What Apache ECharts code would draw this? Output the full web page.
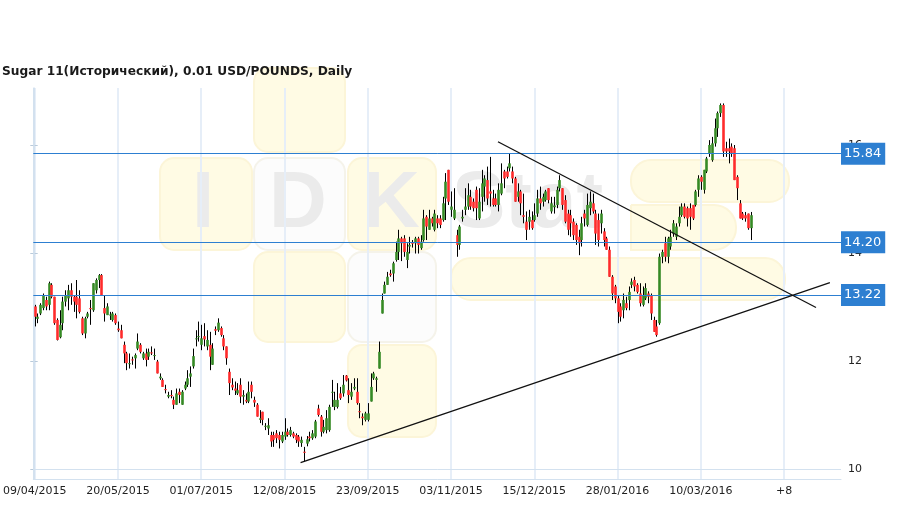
<!DOCTYPE html>
<html>
<head>
<meta charset="utf-8">
<script src="https://cdn.jsdelivr.net/npm/echarts@6/dist/echarts.min.js"></script>
<style>
  html, body { margin: 0; padding: 0; background: #fff; }
  #main { width: 909px; height: 509px; }
</style>
</head>
<body>
<div id="main"></div>
<script>
// подписи оси X (каждые 30 баров)
var tickLabels = ['09/04/2015', '20/05/2015', '01/07/2015', '12/08/2015', '23/09/2015',
  '03/11/2015', '15/12/2015', '28/01/2016', '10/03/2016', '+8'];
var tickStep = 30;
var slotCount = 291;
var yTicks = [10, 12, 14, 16];

// уровни и трендовые линии: [индекс бара, цена]
var levels = [15.84, 14.20, 13.22];
var trendDown = [[166.9, 16.06], [281.5, 12.99]];
var trendUp = [[95.8, 10.12], [286.5, 13.45]];

// свечи: [open, close, low, high]
var candles = [
  [13.01,12.82,12.64,13.04],[12.78,12.82,12.70,12.88],[12.88,13.04,12.85,13.07],[12.98,13.22,12.94,13.25],
  [13.13,13.01,12.94,13.19],[13.04,13.44,12.94,13.47],[13.41,13.19,13.16,13.44],[13.19,12.70,12.67,13.19],
  [12.76,12.39,12.38,12.79],[12.44,12.67,12.42,12.94],[12.70,13.10,12.57,13.19],[13.10,13.22,13.01,13.31],
  [13.16,13.31,12.94,13.41],[13.31,13.19,13.04,13.44],[13.19,13.10,12.91,13.22],[13.19,13.04,12.79,13.50],
  [13.16,12.91,12.88,13.31],[12.79,12.51,12.48,12.82],[12.51,12.79,12.42,12.82],[12.82,12.88,12.79,12.91],
  [12.98,12.96,12.67,13.13],[12.94,13.44,12.91,13.44],[13.31,13.50,13.25,13.53],[13.50,13.59,13.35,13.61],
  [13.59,13.22,13.22,13.61],[12.98,12.88,12.73,13.22],[12.85,13.01,12.85,13.07],[12.85,12.86,12.76,12.91],
  [12.76,12.88,12.73,12.91],[12.85,12.70,12.67,12.88],[12.60,12.57,12.54,12.73],[12.57,12.42,12.42,12.67],
  [12.30,12.14,11.96,12.36],[12.14,11.96,11.83,12.17],[11.95,11.96,11.86,12.14],[12.03,12.01,11.93,12.08],
  [12.05,12.11,11.86,12.14],[12.23,12.36,12.20,12.51],[12.30,12.17,12.14,12.33],[12.05,12.14,12.02,12.17],
  [12.14,12.02,11.90,12.23],[12.08,12.17,12.02,12.23],[12.16,12.14,12.11,12.27],[12.10,12.11,12.02,12.23],
  [11.99,11.77,11.77,12.02],[11.68,11.71,11.65,11.77],[11.65,11.52,11.52,11.68],[11.48,11.46,11.40,11.56],
  [11.34,11.37,11.31,11.43],[11.37,11.35,11.31,11.46],[11.28,11.19,11.11,11.34],[11.19,11.40,11.19,11.49],
  [11.43,11.37,11.22,11.49],[11.19,11.43,11.19,11.46],[11.49,11.56,11.46,11.62],[11.56,11.68,11.52,11.83],
  [11.71,11.77,11.52,11.90],[11.90,12.09,11.86,12.23],[12.41,12.42,12.27,12.57],[12.45,12.46,12.36,12.73],
  [12.30,12.42,12.20,12.67],[12.46,12.40,12.27,12.70],[12.27,12.39,12.20,12.57],[12.30,12.08,11.83,12.54],
  [11.93,12.23,11.93,12.33],[12.59,12.56,12.48,12.64],[12.57,12.71,12.54,12.79],[12.61,12.48,12.45,12.64],
  [12.42,12.27,12.20,12.48],[12.27,12.05,11.93,12.27],[11.80,11.59,11.37,11.86],[11.56,11.51,11.46,11.68],
  [11.49,11.45,11.37,11.62],[11.40,11.46,11.37,11.59],[11.56,11.34,11.22,11.68],[11.34,11.37,11.19,11.46],
  [11.28,11.25,11.22,11.40],[11.25,11.43,11.22,11.62],[11.56,11.43,11.31,11.62],[11.28,11.23,11.15,11.34],
  [11.19,10.97,10.97,11.22],[10.91,10.94,10.85,11.09],[11.06,10.91,10.81,11.06],[10.79,10.80,10.72,10.85],
  [10.75,10.81,10.63,10.94],[10.63,10.51,10.41,10.69],[10.63,10.54,10.41,10.69],[10.66,10.57,10.48,10.72],
  [10.63,10.54,10.38,10.69],[10.51,10.63,10.48,10.69],[10.60,10.69,10.54,10.94],[10.69,10.63,10.60,10.75],
  [10.63,10.72,10.60,10.78],[10.66,10.60,10.57,10.69],[10.63,10.54,10.48,10.66],[10.60,10.51,10.41,10.63],
  [10.48,10.54,10.41,10.60],[10.32,10.30,10.14,10.41],[10.47,10.55,10.42,10.61],[10.60,10.57,10.51,10.69],
  [10.57,10.66,10.54,10.72],[10.60,10.88,10.57,10.91],[11.12,11.00,10.97,11.19],[10.97,10.69,10.60,11.00],
  [10.69,10.78,10.66,10.91],[10.72,10.94,10.66,11.09],[10.72,11.15,10.69,11.19],[11.42,11.43,11.15,11.65],
  [11.15,11.28,11.09,11.43],[11.15,11.28,11.12,11.59],[11.40,11.31,11.28,11.52],[11.40,11.56,11.34,11.74],
  [11.73,11.64,11.62,11.74],[11.46,11.37,11.22,11.68],[11.34,11.43,11.28,11.59],[11.49,11.52,11.46,11.68],
  [11.43,11.22,11.19,11.68],[11.07,11.06,10.94,11.22],[10.97,10.94,10.81,11.03],[10.91,11.03,10.88,11.06],
  [10.91,11.03,10.88,11.22],[11.25,11.52,11.25,11.77],[11.68,11.77,11.65,11.80],[11.65,11.68,11.43,11.71],
  [11.86,12.17,11.86,12.36],[12.88,13.13,12.88,13.25],[13.25,13.41,13.25,13.47],[13.41,13.56,13.41,13.65],
  [13.62,13.59,13.56,13.69],[13.62,13.81,13.47,13.84],[13.87,14.02,13.84,14.21],[14.02,14.27,13.87,14.43],
  [14.27,14.18,13.85,14.30],[14.27,14.02,13.93,14.33],[13.87,14.02,13.72,14.18],[14.12,14.15,13.99,14.30],
  [14.19,14.17,14.10,14.24],[14.18,14.27,13.99,14.30],[14.27,14.15,13.99,14.30],[14.09,14.21,14.06,14.33],
  [14.24,14.64,14.21,14.80],[14.67,14.49,14.24,14.70],[14.43,14.64,14.43,14.80],[14.64,14.55,14.49,14.67],
  [14.43,14.73,14.40,14.80],[14.64,14.55,14.46,14.70],[14.64,14.52,14.46,14.70],[14.61,14.92,14.58,15.04],
  [15.01,15.32,14.61,15.48],[15.54,14.95,14.89,15.54],[14.80,14.86,14.67,15.14],[14.64,14.80,14.61,15.20],
  [14.33,14.15,13.93,14.43],[14.15,14.49,14.06,14.52],[14.64,14.67,14.58,14.80],[14.80,14.86,14.70,15.20],
  [14.86,15.07,14.80,15.29],[15.04,14.86,14.80,15.17],[14.95,14.83,14.77,15.01],[15.17,14.83,14.61,15.23],
  [14.64,14.95,14.61,15.20],[15.04,15.29,14.77,15.54],[15.23,15.38,14.95,15.44],[15.35,15.01,14.89,15.60],
  [15.14,15.10,14.86,15.78],[15.01,14.89,14.86,15.17],[15.01,14.89,14.86,15.10],[14.89,15.17,14.77,15.29],
  [15.10,15.29,15.07,15.66],[15.51,15.38,15.20,15.54],[15.51,15.41,15.38,15.60],[15.57,15.66,15.51,15.85],
  [15.51,15.38,15.29,15.60],[15.38,14.95,14.95,15.41],[15.04,15.14,14.95,15.29],[15.14,14.92,14.70,15.17],
  [14.70,14.67,14.55,15.10],[14.58,14.43,14.24,14.77],[14.58,14.67,14.43,14.80],[14.61,14.46,14.43,14.77],
  [14.61,14.70,14.58,14.92],[14.73,15.01,14.67,15.17],[15.01,14.92,14.80,15.23],[14.95,15.04,14.86,15.10],
  [14.98,15.14,14.95,15.17],[15.20,14.98,14.92,15.20],[14.77,14.92,14.73,15.04],[14.85,14.88,14.73,15.04],
  [14.89,15.17,14.83,15.23],[15.20,15.35,15.14,15.44],[15.20,14.89,14.80,15.20],[14.98,14.58,14.55,15.07],
  [14.73,14.43,14.33,14.80],[14.70,14.55,14.30,14.80],[14.58,14.33,14.24,14.64],[14.52,14.24,14.15,14.55],
  [14.30,14.18,13.96,14.43],[14.24,14.55,14.12,14.67],[14.73,14.64,14.49,14.80],[14.52,14.89,14.49,15.10],
  [14.83,14.95,14.70,15.14],[14.92,14.77,14.73,15.10],[14.73,14.36,14.15,14.80],[14.61,14.24,14.12,14.73],
  [14.55,14.73,14.36,14.80],[14.40,14.24,14.12,14.46],[14.27,14.06,14.06,14.30],[14.06,13.56,13.56,14.12],
  [13.56,13.25,13.13,13.59],[13.38,13.16,13.07,13.41],[13.16,12.91,12.70,13.22],[13.01,12.82,12.73,13.07],
  [12.94,13.13,12.79,13.25],[13.07,12.98,12.94,13.19],[13.13,13.28,12.94,13.38],[13.41,13.47,13.35,13.53],
  [13.50,13.38,13.29,13.56],[13.41,13.28,13.25,13.44],[13.25,13.07,13.01,13.44],[13.04,13.22,13.01,13.38],
  [13.16,13.35,13.13,13.44],[13.25,13.19,13.07,13.29],[13.22,12.88,12.76,13.25],[12.76,12.54,12.54,12.82],
  [12.64,12.48,12.45,12.76],[12.70,13.93,12.67,13.99],[13.93,14.02,13.81,14.06],[14.18,13.93,13.84,14.30],
  [13.93,14.27,13.81,14.30],[14.12,14.30,14.06,14.43],[14.36,14.55,14.30,14.61],[14.30,14.49,14.24,14.55],
  [14.55,14.67,14.49,14.86],[14.70,14.86,14.67,14.92],[14.86,14.67,14.64,14.92],[14.83,14.64,14.49,14.86],
  [14.83,14.67,14.43,14.92],[14.89,14.64,14.61,14.89],[14.89,15.14,14.86,15.17],[15.17,15.38,15.04,15.44],
  [15.41,15.32,15.17,15.44],[15.17,15.54,15.10,15.54],[15.51,15.75,15.48,15.78],[15.85,16.00,15.78,16.09],
  [15.72,16.03,15.69,16.15],[16.03,16.31,15.97,16.49],[16.31,16.59,16.15,16.62],[16.59,16.74,16.52,16.77],
  [16.74,15.88,15.78,16.77],[15.94,15.88,15.78,16.06],[15.94,15.88,15.66,16.12],[15.97,15.85,15.78,16.03],
  [15.94,15.35,15.35,16.00],[15.41,15.20,14.98,15.44],[14.92,14.64,14.64,14.98],[14.73,14.64,14.61,14.76],
  [14.70,14.64,14.58,14.76],[14.73,14.46,14.43,14.73],[14.46,14.70,14.24,14.76]
];

// рабочие дни начиная с 09/04/2015
var categories = [];
var d = new Date(2015, 3, 9);
while (categories.length < slotCount) {
  if (d.getDay() !== 0 && d.getDay() !== 6) {
    categories.push(('0' + d.getDate()).slice(-2) + '/' + ('0' + (d.getMonth() + 1)).slice(-2) + '/' + d.getFullYear());
  }
  d.setDate(d.getDate() + 1);
}

var font = 'DejaVu Sans';
var upColor = '#358a24';
var downColor = '#ff2b2b';
var levelColor = '#2d7fd1';
var gridColor = '#e6eef8';
var onTick = function (idx) { return idx % tickStep === 0; };

// фоновый логотип
var yellow = { fill: '#fffbe4', stroke: '#fcf5d8', lineWidth: 2 };
var pale = { fill: '#fcfcfc', stroke: '#f5f3ea', lineWidth: 2 };
function block(x, y, w, h, st, r) {
  return { type: 'rect', z: -10, silent: true, shape: { x: x, y: y, width: w, height: h, r: r || 14 }, style: st };
}
function letter(t, x, align) {
  return { type: 'text', z: -9, silent: true, x: x, y: 205,
    style: { text: t, font: 'bold 80px "Liberation Sans"', fill: '#ebebeb', textAlign: align || 'center', textVerticalAlign: 'middle' } };
}
var watermark = [
  block(254, 68, 91, 84, yellow),
  block(160, 158, 92, 92, yellow),
  block(254, 158, 91, 92, pale),
  block(348, 158, 88, 92, yellow),
  block(254, 252, 91, 90, yellow),
  block(348, 252, 88, 90, pale),
  block(451, 258, 334, 42, yellow, 20),
  block(348, 345, 88, 92, yellow),
  block(631, 160, 158, 42, yellow, 20),
  block(631, 205, 105, 45, yellow, [0, 22, 22, 0]),
  letter('I', 203), letter('D', 298), letter('K', 391), letter('Stat', 452, 'left')
];

var myChart = echarts.init(document.getElementById('main'));
var option = {
  animation: false,
  backgroundColor: '#fff',
  title: {
    text: 'Sugar 11(Исторический), 0.01 USD/POUNDS, Daily',
    left: -3,
    top: 61,
    textStyle: { fontFamily: font, fontSize: 12.2, fontWeight: 'bold', color: '#1a1a1a' }
  },
  graphic: { elements: watermark },
  grid: { left: 33, right: 68, top: 88, bottom: 30 },
  xAxis: [
    {
      type: 'category',
      data: categories,
      boundaryGap: true,
      axisLine: { lineStyle: { color: '#d3e1ef' } },
      axisTick: { alignWithLabel: true, interval: onTick, length: 3, lineStyle: { color: '#b9cadb' } },
      axisLabel: {
        interval: onTick,
        formatter: function (v, idx) { return tickLabels[idx / tickStep]; },
        fontFamily: font, fontSize: 11, color: '#222', margin: 7
      },
      splitLine: { show: true, interval: onTick, alignWithLabel: true, lineStyle: { color: gridColor, width: 2 } }
    },
    { type: 'value', min: -0.5, max: slotCount - 0.5, show: false }
  ],
  yAxis: [
    {
      type: 'value',
      position: 'right',
      min: 9.8148,
      max: 17.0556,
      axisLine: { show: true, lineStyle: { color: '#d3e1ef' } },
      axisTick: { show: true, customValues: yTicks, length: 3, lineStyle: { color: '#b9cadb' } },
      axisLabel: { customValues: yTicks, fontFamily: font, fontSize: 11, color: '#222', margin: 7 },
      splitLine: { show: false }
    },
    {
      type: 'value',
      position: 'left',
      min: 9.8148,
      max: 17.0556,
      axisLine: { show: true, lineStyle: { color: '#d3e1ef' } },
      axisTick: { show: true, customValues: yTicks, length: 3, lineStyle: { color: '#b9cadb' } },
      axisLabel: { show: false },
      splitLine: { show: false }
    }
  ],
  series: [
    {
      type: 'custom',
      name: 'Sugar 11',
      xAxisIndex: 0,
      yAxisIndex: 0,
      encode: { x: 0, y: [1, 2, 3, 4] },
      data: candles.map(function (c, i) { return [i, c[0], c[1], c[2], c[3]]; }),
      renderItem: function (params, api) {
        var i = api.value(0);
        var o = api.coord([i, api.value(1)]);
        var c = api.coord([i, api.value(2)]);
        var lo = api.coord([i, api.value(3)]);
        var hi = api.coord([i, api.value(4)]);
        var x = Math.round(o[0]) + 0.5;
        var w = 2.6;
        var top = Math.min(o[1], c[1]);
        var h = Math.max(1, Math.abs(o[1] - c[1]));
        return {
          type: 'group',
          children: [
            { type: 'line', shape: { x1: x, y1: hi[1], x2: x, y2: lo[1] }, style: { stroke: '#000', lineWidth: 1 } },
            { type: 'rect', shape: { x: x - w / 2, y: top, width: w, height: h },
              style: { fill: api.value(2) >= api.value(1) ? upColor : downColor } }
          ]
        };
      }
    },
    {
      type: 'line',
      xAxisIndex: 1,
      yAxisIndex: 0,
      data: trendDown,
      symbol: 'none',
      z: 5,
      lineStyle: { color: '#111', width: 1.3 }
    },
    {
      type: 'line',
      xAxisIndex: 1,
      yAxisIndex: 0,
      data: trendUp,
      symbol: 'none',
      z: 5,
      lineStyle: { color: '#111', width: 1.3 },
      markLine: {
        silent: true,
        symbol: 'none',
        data: [{ yAxis: 10, lineStyle: { color: '#d3e1ef', width: 1, type: 'solid' }, label: { show: false } }].concat(
          levels.map(function (v) {
            return {
              yAxis: v,
              lineStyle: { color: levelColor, width: 1, type: 'solid' },
              label: {
                show: true, position: 'end', distance: 0,
                formatter: v.toFixed(2),
                backgroundColor: levelColor, color: '#fff',
                fontFamily: font, fontSize: 13, lineHeight: 14, padding: [4, 4, 4, 3]
              }
            };
          }))
      }
    }
  ]
};
myChart.setOption(option);
</script>
</body>
</html>
